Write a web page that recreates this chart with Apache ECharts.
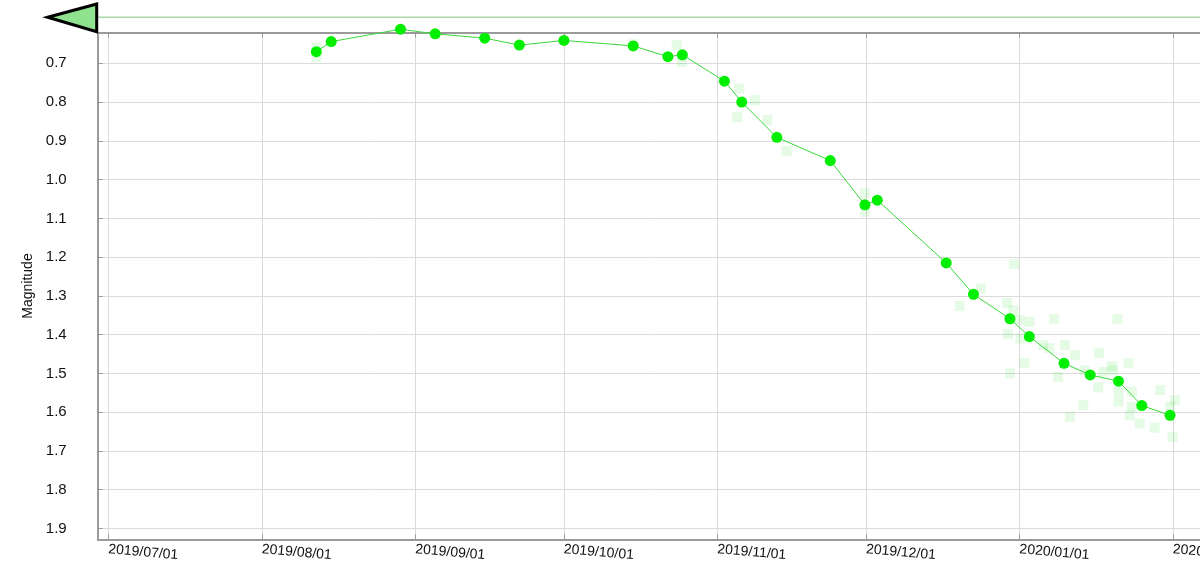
<!DOCTYPE html>
<html>
<head>
<meta charset="utf-8">
<script src="https://cdn.jsdelivr.net/npm/echarts@6/dist/echarts.min.js"></script>
<style>
html,body{margin:0;padding:0;background:#fff;}
#c{width:1200px;height:572px;}
</style>
</head>
<body>
<div id="c"></div>
<script>
// Binned (mean) magnitudes
var mainDates = ['2019-08-12','2019-08-15','2019-08-29','2019-09-05','2019-09-15','2019-09-22','2019-10-01','2019-10-15','2019-10-22','2019-10-24 22:00','2019-11-02 10:00','2019-11-05 22:00','2019-11-13','2019-11-23 19:00','2019-11-30 19:00','2019-12-03 07:00','2019-12-17 05:00','2019-12-22 17:00','2019-12-30 02:00','2020-01-03','2020-01-10','2020-01-15 07:00','2020-01-21','2020-01-25 17:00','2020-01-31 10:00'];
var mainMags = [0.670,0.644,0.612,0.624,0.635,0.653,0.641,0.655,0.683,0.678,0.746,0.800,0.891,0.951,1.065,1.053,1.215,1.296,1.359,1.405,1.474,1.504,1.520,1.583,1.608];

// Individual observations (faint squares)
var obsDates = ['2019-08-12','2019-08-12','2019-08-29','2019-10-15','2019-10-23 19:00','2019-10-24 20:00','2019-11-05 10:00','2019-11-08 14:00','2019-11-05','2019-11-11 02:00','2019-11-15','2019-11-30 19:00','2019-11-30 19:00','2019-12-30 22:00','2019-12-24 05:00','2019-12-19 22:00','2019-12-29 12:00','2019-12-30 19:00','2020-01-01 02:00','2020-01-03','2020-01-08','2019-12-29 17:00','2020-01-01 05:00','2020-01-05 19:00','2020-01-07','2020-01-10 05:00','2020-01-02','2019-12-30 02:00','2020-01-08 19:00','2020-01-20 19:00','2020-01-12 05:00','2020-01-17 02:00','2020-01-14 05:00','2020-01-17 22:00','2020-01-19 22:00','2020-01-19 14:00','2020-01-23','2020-01-16 22:00','2020-01-21','2020-01-23 17:00','2020-01-21','2020-01-23 17:00','2020-01-23 07:00','2020-01-13 22:00','2020-01-11 05:00','2020-01-29 10:00','2020-02-01 10:00','2020-01-25 07:00','2020-01-28 07:00','2020-01-31 22:00','2020-01-31 10:00'];
var obsMags = [0.658,0.684,0.614,0.650,0.653,0.696,0.765,0.795,0.839,0.846,0.926,1.035,1.083,1.218,1.281,1.326,1.318,1.337,1.362,1.367,1.360,1.399,1.410,1.427,1.435,1.427,1.473,1.500,1.509,1.360,1.453,1.447,1.492,1.496,1.492,1.481,1.474,1.536,1.547,1.547,1.573,1.586,1.608,1.582,1.612,1.543,1.569,1.629,1.640,1.664,1.586];

// Limit line magnitude
var limitMag = 0.581;

// Axis ranges and tick label format
var xMin = '2019-06-28 20:08';
var xMax = '2020-02-07 01:40';
var yMin = 0.621;
var yMax = 1.928;
var xLabelFormat = '{yyyy}/{MM}/{dd}';
var yAxisName = 'Magnitude';

var mainData = mainDates.map(function(d,i){return [d, mainMags[i]];});
var obsData = obsDates.map(function(d,i){return [d, obsMags[i]];});
var limitData = [[xMin, limitMag], [xMax, limitMag]];

var chart = echarts.init(document.getElementById('c'), null, {renderer:'canvas'});
var axisGray = '#9a9a9a';
var font = 'Liberation Sans, Arial, Helvetica, sans-serif';
chart.setOption({
  animation:false,
  backgroundColor:'#fff',
  textStyle:{fontFamily:font},
  grid:{left:97.7, right:-3, top:32.7, bottom:32.7, containLabel:false, outerBoundsMode:'none'},
  xAxis:[{
    type:'time', min:xMin, max:xMax, position:'bottom', splitNumber:7,
    axisLine:{show:true, lineStyle:{color:axisGray, width:2}},
    axisTick:{show:true, inside:true, length:5, lineStyle:{color:axisGray, width:1}},
    minorTick:{show:false},
    splitLine:{show:true, lineStyle:{color:'#dadada', width:1}},
    axisLabel:{formatter:xLabelFormat, rotate:-5, margin:10, fontSize:14, color:'#111', fontFamily:font, hideOverlap:false, showMinLabel:false, showMaxLabel:false}
  },{
    type:'time', min:xMin, max:xMax, position:'top', splitNumber:7,
    axisLine:{show:true, lineStyle:{color:axisGray, width:2}},
    axisTick:{show:true, inside:true, length:5, lineStyle:{color:axisGray, width:1}},
    splitLine:{show:false},
    axisLabel:{show:false}
  }],
  yAxis:{
    type:'value', inverse:true, min:yMin, max:yMax, splitNumber:13,
    name:yAxisName, nameLocation:'middle', nameRotate:90, nameGap:59,
    nameTextStyle:{fontSize:14, color:'#111', fontFamily:font},
    axisLine:{show:true, lineStyle:{color:axisGray, width:2}},
    axisTick:{show:true, inside:true, length:5, lineStyle:{color:axisGray, width:1}},
    splitLine:{show:true, lineStyle:{color:'#dadada', width:1}},
    axisLabel:{showMinLabel:false, showMaxLabel:false, margin:31, fontSize:15, color:'#111', fontFamily:font,
      formatter:function(v){return v.toFixed(1);}}
  },
  graphic:[{
    type:'polygon', z:100,
    shape:{points:[[47.7,17.3],[96.7,4],[96.7,31.7]]},
    style:{fill:'#8fe38f', stroke:'#000', lineWidth:3, lineJoin:'miter'}
  }],
  series:[{
    type:'scatter', name:'obs', data:obsData, symbol:'rect', symbolSize:10,
    itemStyle:{color:'rgba(0,220,0,0.13)'}, z:2
  },{
    type:'line', name:'mean', data:mainData, symbol:'circle', symbolSize:11, showSymbol:true, clip:false,
    itemStyle:{color:'#00ee00'}, lineStyle:{color:'#3ad83a', width:1}, z:3
  },{
    type:'line', name:'limit', data:limitData, clip:false, z:4, symbol:'none', silent:true,
    lineStyle:{color:'#a9d8a9', width:1.5, type:'solid'}
  }]
});
</script>
</body>
</html>
